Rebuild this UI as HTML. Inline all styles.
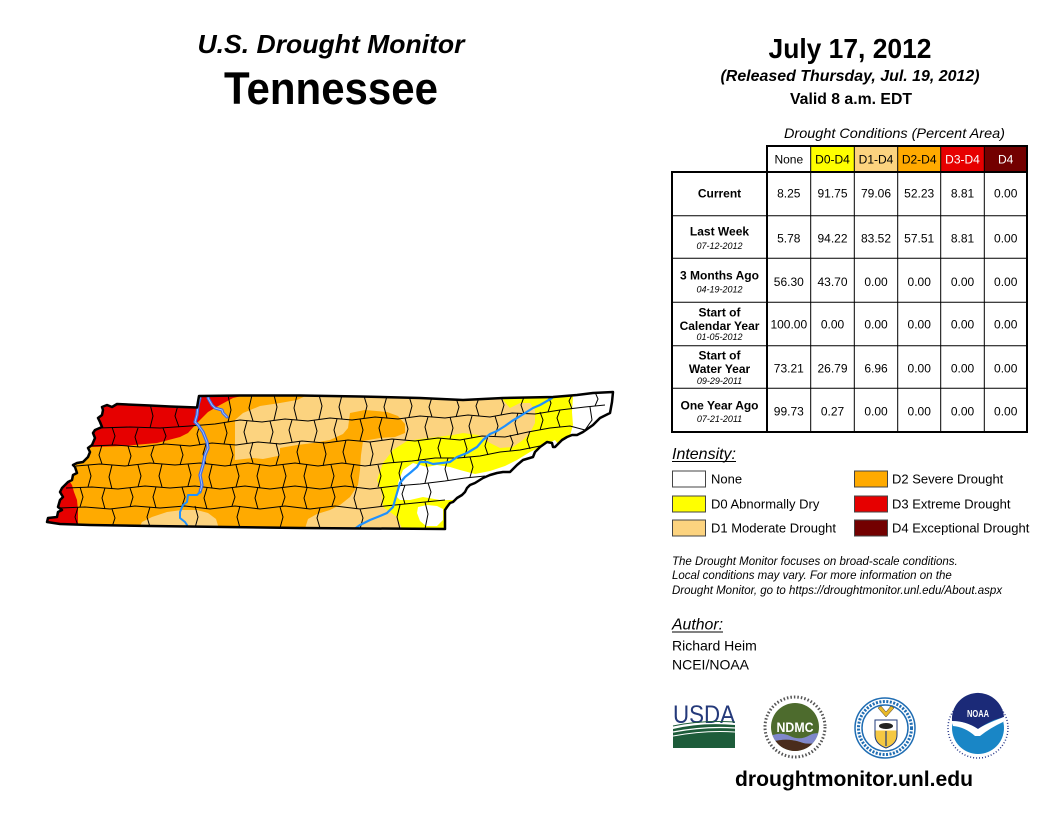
<!DOCTYPE html>
<html>
<head>
<meta charset="utf-8">
<style>
html,body{margin:0;padding:0;background:#fff;}
svg{display:block;}
text{font-family:"Liberation Sans",Arial,sans-serif;}
</style>
</head>
<body>
<svg width="1056" height="816" viewBox="0 0 1056 816" xmlns="http://www.w3.org/2000/svg">
<rect width="1056" height="816" fill="#fff"/>

<!-- Titles -->
<text x="331" y="53" font-size="26" font-weight="bold" font-style="italic" text-anchor="middle" textLength="267" lengthAdjust="spacingAndGlyphs">U.S. Drought Monitor</text>
<text x="331" y="104" font-size="45" font-weight="bold" text-anchor="middle" textLength="214" lengthAdjust="spacingAndGlyphs">Tennessee</text>

<text x="850" y="58" font-size="28" font-weight="bold" text-anchor="middle" textLength="163" lengthAdjust="spacingAndGlyphs">July 17, 2012</text>
<text x="850" y="81" font-size="16" font-weight="bold" font-style="italic" text-anchor="middle" textLength="259" lengthAdjust="spacingAndGlyphs">(Released Thursday, Jul. 19, 2012)</text>
<text x="851" y="104" font-size="15.5" font-weight="bold" text-anchor="middle" textLength="122" lengthAdjust="spacingAndGlyphs">Valid 8 a.m. EDT</text>

<!-- Map -->
<defs>
<clipPath id="st">
<path d="M117,404 L150,405.5 L170,406.5 L197,407.5 L199,396 L240,395.5 L300,395.5 L360,396.5 L420,398 L463,400 L503,398 L553,397 L577,395 L593,393 L613,392 L612,402 L610,413 L600,418 L593,425 L583,432 L577,435 L572,435 L567,437 L562,440 L557,445 L555,447 L553,447 L552,443 L547,442 L540,447 L535,452 L533,457 L523,460 L517,465 L510,472 L503,472 L497,473 L490,475 L483,478 L475,483 L470,485 L467,488 L465,492 L462,495 L457,498 L453,502 L450,503 L447,507 L445,510 L445,529 L300,528 L150,526 L90,525 L60,524 L47,522 L48,518 L57,517 L58,512 L62,510 L58,507 L60,500 L63,497 L60,492 L62,488 L65,485 L68,482 L72,480 L73,475 L77,473 L75,467 L73,465 L77,463 L83,462 L88,457 L90,452 L88,448 L92,445 L95,438 L93,433 L95,430 L102,427 L100,422 L98,418 L102,415 L103,410 L102,407 L107,405 L112,407 Z"/>
</clipPath>
<clipPath id="ndmc"><circle cx="795" cy="727" r="24"/></clipPath>
</defs>

<g clip-path="url(#st)">
<rect x="30" y="380" width="600" height="160" fill="#FFAA00"/>
<!-- D1 big -->
<polygon fill="#FCD37F" points="235,455 235,420 243,413 260,406 280,403 297,400 312,393 640,385 640,545 300,545 298,448 283,455 263,459 253,458 235,460"/>
<!-- D1 SW lens -->
<polygon fill="#FCD37F" points="137,532 142,522 152,517 167,512 182,510 197,510 208,513 216,519 220,532"/>
<!-- D2 central -->
<polygon fill="#FFAA00" points="280,448 297,445 313,443 330,440 343,434 348,428 350,413 365,410 387,412 398,416 405,424 405,433 395,437 380,438 363,441 361,455 360,470 358,485 350,497 340,505 330,510 317,514 308,519 303,535 280,535"/>
<!-- D0 -->
<polygon fill="#FFFF00" points="383,507 382,493 377,480 383,463 393,450 407,441 420,439 437,437 453,435 463,433 478,435 490,443 500,448 513,447 523,440 530,433 535,423 535,410 530,403 520,403 510,408 503,400 500,385 575,385 573,397 572,412 573,425 570,436 565,441 580,450 470,535 405,535 397,517"/>
<!-- None -->
<polygon fill="#FFFFFF" points="397,497 398,483 403,470 413,463 427,467 437,465 450,467 460,470 475,474 490,471 505,466 517,460 530,452 545,445 555,440 570,460 480,500 470,497 463,497 453,500 440,500 423,497 410,500 400,500"/>
<polygon fill="#FFFFFF" points="418,507 427,505 437,506 443,509 443,520 437,526 426,526 420,521 417,513"/>
<polygon fill="#FFFFFF" points="572,385 573,397 572,412 573,425 570,436 565,441 556,448 620,448 620,385"/>
<!-- D3 -->
<polygon fill="#E60000" points="80,438 92,447 123,446 157,443 180,437 188,433 197,423 208,412 220,405 233,398 246,395 250,385 80,385"/>
<polygon fill="#E60000" points="40,478 68,479 72,485 74,492 77,500 78,510 78,535 40,535"/>

<!-- county lines -->
<g fill="none" stroke="#000" stroke-width="1">
<path d="M98,428 L130,427 L160,428 L190,426 L215,424 L240,420 L262,422 L285,419 L308,421 L330,418 L352,420 L375,417 L398,419 L420,416 L445,418 L468,415 L490,417 L512,413 L535,414 L560,410 L585,407 L605,405"/>
<path d="M90,446 L115,445 L140,447 L165,444 L190,446 L212,443 L236,445 L258,442 L280,444 L302,441 L325,443 L348,440 L370,442 L392,439 L415,441 L438,438 L460,440 L482,436 L505,437 L528,432 L550,428 L570,426 L585,430"/>
<path d="M76,466 L100,464 L125,466 L150,463 L175,465 L200,463 L225,466 L248,463 L270,466 L295,463 L318,466 L342,463 L365,466 L388,463 L412,461 L435,458 L458,458 L480,456 L500,452 L520,450 L540,446"/>
<path d="M66,488 L92,487 L118,489 L145,486 L170,488 L195,486 L220,489 L245,486 L270,489 L295,486 L320,489 L345,486 L370,489 L395,486 L420,484 L445,481 L465,478 L485,476"/>
<path d="M60,508 L85,507 L110,509 L135,506 L160,508 L185,506 L210,509 L235,506 L260,509 L285,506 L310,509 L335,506 L360,509 L385,506 L405,504 L425,502 L445,500"/>
<path d="M150,404L153,416L150,428 M178,405L175,416L179,427 M228,395L231,410L228,422 M252,395L249,408L253,421 M274,395L277,407L274,420 M297,395L294,408L297,420 M319,395L322,406L319,419 M342,395L339,407L342,419 M364,396L367,406L364,418 M387,396L384,407L387,418 M409,396L412,406L409,417 M432,397L429,407L432,417 M456,398L459,407L456,417 M479,398L476,406L479,416 M501,397L504,405L501,415 M524,397L521,405L524,414 M548,396L551,403L548,412 M572,395L569,401L572,409 M595,392L598,399L595,406 M590,407L592,420L585,430"/>
<path d="M112,427L115,436L112,445 M138,428L135,437L138,447 M163,428L166,436L163,444 M200,425L197,434L200,445 M224,422L227,433L224,444 M247,421L244,432L247,443 M270,421L273,432L270,443 M292,420L289,430L292,442 M314,420L317,431L314,442 M337,419L334,430L337,441 M360,419L363,430L360,441 M382,418L379,428L382,440 M405,418L408,429L405,440 M428,417L425,427L428,439 M450,417L453,428L450,439 M472,416L469,426L472,438 M495,416L498,426L495,436 M518,413L515,423L518,435 M540,412L543,420L540,430 M560,410L557,418L560,427"/>
<path d="M102,445L99,455L102,464 M128,446L131,456L128,466 M154,446L151,455L154,463 M180,445L183,455L180,465 M206,444L203,454L206,464 M230,445L233,455L230,466 M253,442L250,453L253,463 M276,443L279,455L276,465 M300,441L297,452L300,464 M323,442L326,454L323,466 M346,440L343,452L346,463 M370,442L373,454L370,466 M394,439L391,451L394,463 M418,440L421,450L418,461 M441,438L438,448L441,458 M464,439L467,449L464,458 M488,436L485,446L488,455 M510,435L513,443L510,451 M530,431L527,440L530,449"/>
<path d="M88,465L91,476L88,487 M112,465L109,477L112,489 M138,465L141,476L138,487 M162,464L159,476L162,487 M188,464L191,475L188,486 M212,465L209,477L212,488 M236,465L239,476L236,487 M260,464L257,476L260,488 M283,465L286,476L283,487 M307,464L304,476L307,488 M331,465L334,476L331,487 M354,464L351,476L354,488 M378,465L381,476L378,487 M402,462L399,473L402,485 M425,460L428,471L425,483 M448,458L445,469L448,480 M470,457L473,467L470,477"/>
<path d="M80,487L83,497L80,507 M105,488L102,498L105,509 M130,488L133,497L130,507 M156,487L153,497L156,508 M182,487L185,497L182,506 M207,488L204,498L207,509 M232,487L235,497L232,506 M258,487L255,498L258,509 M282,487L285,497L282,506 M307,488L304,498L307,509 M332,487L335,497L332,506 M357,487L354,498L357,509 M381,488L384,497L381,506 M405,485L402,494L405,504 M428,483L431,492L428,502"/>
<path d="M78,507L75,517L78,526 M112,509L115,518L112,527 M150,507L147,517L150,527 M195,506L198,517L195,528 M240,506L237,517L240,528 M280,507L283,517L280,528 M320,508L317,518L320,528 M360,509L363,518L360,529 M400,505L397,517L400,529 M425,502L428,514L425,529"/>
</g>

<!-- rivers -->
<g fill="none" stroke-linejoin="round" stroke-linecap="round">
<path d="M198,392 L200,398 L198,405 L197,415 L195,422 L198,425 L203,432 L207,442 L208,448 L205,455 L203,465 L200,475 L202,485 L200,492" stroke="#3A66E6" stroke-width="3.2"/>
<path d="M198,392 L200,398 L198,405 L197,415 L195,422 L198,425 L203,432 L207,442 L208,448 L205,455 L203,465 L200,475 L202,485 L200,492" stroke="#9CC0FF" stroke-width="1"/>
<path d="M210,392 L208,398 L212,405 L215,408 L222,410 L223,413 L227,417" stroke="#3A66E6" stroke-width="3"/>
<path d="M210,392 L208,398 L212,405 L215,408 L222,410 L223,413 L227,417" stroke="#9CC0FF" stroke-width="1"/>
<path d="M200,492 L197,495 L188,495 L187,502 L183,505 L180,512 L180,518 L185,522 L187,525 L187,530" stroke="#1E90FF" stroke-width="2"/>
<path d="M353,530 L360,525 L370,520 L380,516 L387,513 L393,507 L397,493 L400,483 L405,477 L410,473 L417,467 L420,462 L427,462 L433,464 L442,463 L450,462 L457,457 L467,453 L477,447 L483,440 L490,434 L497,431 L505,426 L512,421 L517,418 L525,413 L533,408 L540,405 L547,401 L552,398" stroke="#1E90FF" stroke-width="2.2"/>
</g>
</g>
<!-- state outline -->
<path fill="none" stroke="#000" stroke-width="2.5" stroke-linejoin="round" d="M117,404 L150,405.5 L170,406.5 L197,407.5 L199,396 L240,395.5 L300,395.5 L360,396.5 L420,398 L463,400 L503,398 L553,397 L577,395 L593,393 L613,392 L612,402 L610,413 L600,418 L593,425 L583,432 L577,435 L572,435 L567,437 L562,440 L557,445 L555,447 L553,447 L552,443 L547,442 L540,447 L535,452 L533,457 L523,460 L517,465 L510,472 L503,472 L497,473 L490,475 L483,478 L475,483 L470,485 L467,488 L465,492 L462,495 L457,498 L453,502 L450,503 L447,507 L445,510 L445,529 L300,528 L150,526 L90,525 L60,524 L47,522 L48,518 L57,517 L58,512 L62,510 L58,507 L60,500 L63,497 L60,492 L62,488 L65,485 L68,482 L72,480 L73,475 L77,473 L75,467 L73,465 L77,463 L83,462 L88,457 L90,452 L88,448 L92,445 L95,438 L93,433 L95,430 L102,427 L100,422 L98,418 L102,415 L103,410 L102,407 L107,405 L112,407 Z"/>

<!-- Table -->
<text x="894.5" y="138" font-size="14" font-style="italic" text-anchor="middle" textLength="221" lengthAdjust="spacingAndGlyphs">Drought Conditions (Percent Area)</text>
<rect x="767" y="146" width="43.7" height="26" fill="#FFFFFF"/>
<rect x="810.7" y="146" width="43.6" height="26" fill="#FFFF00"/>
<rect x="854.3" y="146" width="43.4" height="26" fill="#FCD37F"/>
<rect x="897.7" y="146" width="43" height="26" fill="#FFAA00"/>
<rect x="940.7" y="146" width="43.6" height="26" fill="#E60000"/>
<rect x="984.3" y="146" width="42.7" height="26" fill="#730000"/>
<g stroke="#000" fill="none">
<rect x="767" y="146" width="260" height="26" stroke-width="2"/>
<rect x="672" y="172" width="355" height="260" stroke-width="2"/>
<line x1="767" y1="172" x2="767" y2="432" stroke-width="2"/>
<g stroke-width="1">
<line x1="810.7" y1="146" x2="810.7" y2="432"/>
<line x1="854.3" y1="146" x2="854.3" y2="432"/>
<line x1="897.7" y1="146" x2="897.7" y2="432"/>
<line x1="940.7" y1="146" x2="940.7" y2="432"/>
<line x1="984.3" y1="146" x2="984.3" y2="432"/>
<line x1="672" y1="215.7" x2="1027" y2="215.7"/>
<line x1="672" y1="258.3" x2="1027" y2="258.3"/>
<line x1="672" y1="302.3" x2="1027" y2="302.3"/>
<line x1="672" y1="345.7" x2="1027" y2="345.7"/>
<line x1="672" y1="388.3" x2="1027" y2="388.3"/>
</g>
</g>
<g font-size="12" text-anchor="middle">
<text x="788.8" y="163.3">None</text>
<text x="832.5" y="163.3">D0-D4</text>
<text x="876" y="163.3">D1-D4</text>
<text x="919.2" y="163.3">D2-D4</text>
<text x="962.5" y="163.3" fill="#fff">D3-D4</text>
<text x="1005.7" y="163.3" fill="#fff">D4</text>
</g>
<g font-size="12" font-weight="bold" text-anchor="middle">
<text x="719.5" y="197.3">Current</text>
<text x="719.5" y="235.3">Last Week</text>
<text x="719.5" y="279.3">3 Months Ago</text>
<text x="719.5" y="316.3">Start of</text>
<text x="719.5" y="329.8">Calendar Year</text>
<text x="719.5" y="359.3">Start of</text>
<text x="719.5" y="372.8">Water Year</text>
<text x="719.5" y="409.3">One Year Ago</text>
</g>
<g font-size="9" font-style="italic" text-anchor="middle">
<text x="719.5" y="249">07-12-2012</text>
<text x="719.5" y="292.5">04-19-2012</text>
<text x="719.5" y="340">01-05-2012</text>
<text x="719.5" y="384">09-29-2011</text>
<text x="719.5" y="422">07-21-2011</text>
</g>
<g font-size="12" text-anchor="middle">
<text x="788.8" y="197.3">8.25</text><text x="832.5" y="197.3">91.75</text><text x="876" y="197.3">79.06</text><text x="919.2" y="197.3">52.23</text><text x="962.5" y="197.3">8.81</text><text x="1005.7" y="197.3">0.00</text>
<text x="788.8" y="242.3">5.78</text><text x="832.5" y="242.3">94.22</text><text x="876" y="242.3">83.52</text><text x="919.2" y="242.3">57.51</text><text x="962.5" y="242.3">8.81</text><text x="1005.7" y="242.3">0.00</text>
<text x="788.8" y="285.8">56.30</text><text x="832.5" y="285.8">43.70</text><text x="876" y="285.8">0.00</text><text x="919.2" y="285.8">0.00</text><text x="962.5" y="285.8">0.00</text><text x="1005.7" y="285.8">0.00</text>
<text x="788.8" y="328.3">100.00</text><text x="832.5" y="328.3">0.00</text><text x="876" y="328.3">0.00</text><text x="919.2" y="328.3">0.00</text><text x="962.5" y="328.3">0.00</text><text x="1005.7" y="328.3">0.00</text>
<text x="788.8" y="372.3">73.21</text><text x="832.5" y="372.3">26.79</text><text x="876" y="372.3">6.96</text><text x="919.2" y="372.3">0.00</text><text x="962.5" y="372.3">0.00</text><text x="1005.7" y="372.3">0.00</text>
<text x="788.8" y="415.3">99.73</text><text x="832.5" y="415.3">0.27</text><text x="876" y="415.3">0.00</text><text x="919.2" y="415.3">0.00</text><text x="962.5" y="415.3">0.00</text><text x="1005.7" y="415.3">0.00</text>
</g>

<!-- Legend -->
<text x="672" y="459" font-size="16" font-style="italic" textLength="64" lengthAdjust="spacingAndGlyphs">Intensity:</text>
<line x1="672" y1="461.5" x2="736" y2="461.5" stroke="#000" stroke-width="1"/>
<g stroke="#444" stroke-width="1">
<rect x="672.5" y="471" width="33" height="16" fill="#FFFFFF"/>
<rect x="672.5" y="496" width="33" height="16" fill="#FFFF00"/>
<rect x="672.5" y="520" width="33" height="16" fill="#FCD37F"/>
<rect x="854.5" y="471" width="33" height="16" fill="#FFAA00"/>
<rect x="854.5" y="496" width="33" height="16" fill="#E60000"/>
<rect x="854.5" y="520" width="33" height="16" fill="#730000"/>
</g>
<g font-size="13">
<text x="711" y="483.7">None</text>
<text x="711" y="508.7">D0 Abnormally Dry</text>
<text x="711" y="532.7">D1 Moderate Drought</text>
<text x="892" y="483.7">D2 Severe Drought</text>
<text x="892" y="508.7">D3 Extreme Drought</text>
<text x="892" y="532.7">D4 Exceptional Drought</text>
</g>
<g font-size="11.5" font-style="italic">
<text x="672" y="565">The Drought Monitor focuses on broad-scale conditions.</text>
<text x="672" y="579">Local conditions may vary. For more information on the</text>
<text x="672" y="594">Drought Monitor, go to https://droughtmonitor.unl.edu/About.aspx</text>
</g>
<text x="672" y="629.5" font-size="16" font-style="italic" textLength="51" lengthAdjust="spacingAndGlyphs">Author:</text>
<line x1="672" y1="632" x2="723" y2="632" stroke="#000" stroke-width="1"/>
<text x="672" y="650.5" font-size="14">Richard Heim</text>
<text x="672" y="669.5" font-size="14">NCEI/NOAA</text>

<!-- Logos -->
<!-- USDA -->
<text x="673" y="723" font-size="25" fill="#24397A" textLength="62" lengthAdjust="spacingAndGlyphs">USDA</text>
<path d="M673,726 Q700,720 735,722" stroke="#1D5C3A" stroke-width="1" fill="none"/>
<path d="M673,729 Q702,722 735,725 L735,748 L673,748 Z" fill="#1D5C3A"/>
<path d="M673,732 Q705,726 735,728" stroke="#fff" stroke-width="1.2" fill="none"/>
<path d="M673,736 Q705,730 735,732" stroke="#fff" stroke-width="1" fill="none"/>

<!-- NDMC -->
<circle cx="795" cy="727" r="30" fill="none" stroke="#555" stroke-width="3" stroke-dasharray="1.5 2"/>
<circle cx="795" cy="727" r="24" fill="#4D6B2D"/>
<g clip-path="url(#ndmc)">
<path d="M768,737 Q780,731 790,736 Q800,741 810,735 Q815,732 822,734 L822,741 Q810,746 800,742 Q785,737 768,743 Z" fill="#8088CC"/>
<path d="M768,743 Q785,737 800,742 Q810,746 822,741 L822,756 L768,756 Z" fill="#4A2C1C"/>
</g>
<text x="795" y="732" font-size="14" font-weight="bold" fill="#fff" text-anchor="middle" textLength="37" lengthAdjust="spacingAndGlyphs">NDMC</text>

<!-- Commerce -->
<circle cx="885" cy="728" r="30" fill="#fff" stroke="#1F6DB3" stroke-width="1.5"/>
<circle cx="885" cy="728" r="26.5" fill="none" stroke="#1F6DB3" stroke-width="3" stroke-dasharray="2 1.5"/>
<circle cx="885" cy="728" r="23" fill="none" stroke="#1F6DB3" stroke-width="1.5"/>
<path d="M878,708 L886,717 L894,708 L891,706 L886,712 L881,706 Z" fill="#E8B828" stroke="#333" stroke-width="0.5"/>
<path d="M875,720 L897,720 L897,735 Q897,744 886,748 Q875,744 875,735 Z" fill="#F5C842" stroke="#1F3A7A" stroke-width="1"/>
<rect x="875.5" y="720.5" width="21" height="10" fill="#fff"/>
<ellipse cx="886" cy="726" rx="7" ry="3" fill="#222"/>
<line x1="886" y1="731" x2="886" y2="746" stroke="#1F3A7A" stroke-width="1.2"/>

<!-- NOAA -->
<circle cx="978" cy="728" r="30" fill="none" stroke="#2A3A8A" stroke-width="1.5" stroke-dasharray="1 2"/>
<circle cx="978" cy="728" r="26" fill="#1986C6"/>
<path d="M952,721 A26,26 0 0 1 1004,717 L994,720 Q985,724 978,729 Q966,721 952,721 Z" fill="#1B2A78"/>
<path d="M952,721 Q966,721 978,729 Q985,724 1004,717 L1003,722 Q990,728 980,736 L975,736 Q965,727 953,726 Z" fill="#fff"/>
<text x="978" y="717" font-size="10" font-weight="bold" fill="#fff" text-anchor="middle" textLength="22" lengthAdjust="spacingAndGlyphs">NOAA</text>

<text x="854" y="786" font-size="21" font-weight="bold" text-anchor="middle" textLength="238" lengthAdjust="spacingAndGlyphs">droughtmonitor.unl.edu</text>
</svg>
</body>
</html>
